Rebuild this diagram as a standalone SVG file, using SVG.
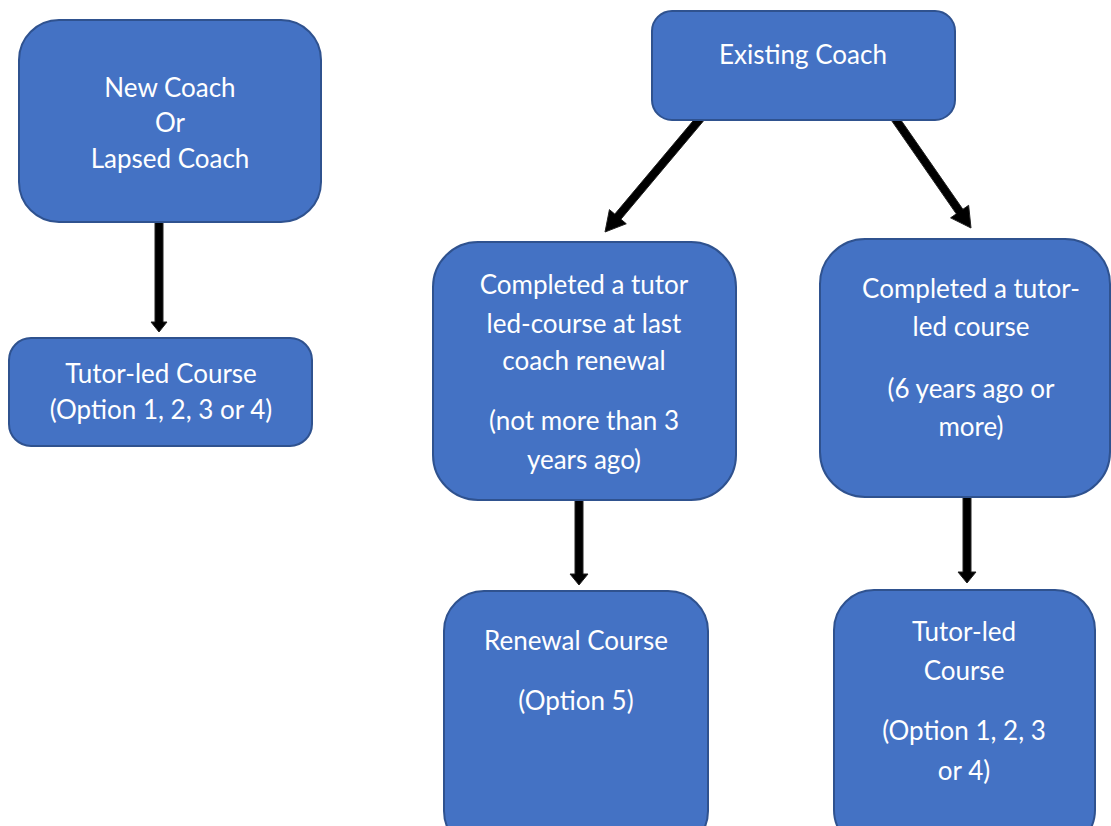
<svg xmlns="http://www.w3.org/2000/svg" width="1111" height="826" viewBox="0 0 1111 826">
<style>
.box{fill:#4472C4;stroke:#2F528F;stroke-width:2}
.t{fill:#ffffff;font-family:Lato,"Open Sans","Liberation Sans",sans-serif;font-size:26px;text-anchor:middle}
.a{fill:#000;stroke:#222;stroke-width:1;stroke-linejoin:miter}
</style>
<rect width="1111" height="826" fill="#ffffff"/>
<g id="connectors">
<polygon class="a" points="155,222 163,222 163,322 167,322 159,332 151,322 155,322"/>
<polygon class="a" points="575,500 583,500 583,574 588,574 579,585 570,574 575,574"/>
<polygon class="a" points="963,497 971,497 971,572 976,572 967,583 958,572 963,572"/>
<polygon class="a" points="705.96,117.97 620.92,219.25 626.29,223.75 605,232 609.43,209.61 614.80,214.11 699.84,112.83"/>
<polygon class="a" points="895.86,112.79 962.88,209.30 968.63,205.31 971,228 950.57,217.85 956.32,213.86 889.30,117.35"/>
</g>
<g id="n-new">
<rect class="box" x="19" y="20" width="302" height="202" rx="40"/>
<text class="t" x="170" y="97">New Coach</text>
<text class="t" x="170" y="132">Or</text>
<text class="t" x="170" y="168">Lapsed Coach</text>
</g>
<g id="n-tutor-left">
<rect class="box" x="9" y="338" width="303" height="108" rx="22"/>
<text class="t" x="161" y="383">Tutor-led Course</text>
<text class="t" x="161" y="419">(Option 1, 2, 3 or 4)</text>
</g>
<g id="n-existing">
<rect class="box" x="652" y="11" width="303" height="109" rx="20"/>
<text class="t" x="803" y="64">Existing Coach</text>
</g>
<g id="n-completed-left">
<rect class="box" x="433" y="242" width="303" height="258" rx="45"/>
<text class="t" x="584" y="294">Completed a tutor</text>
<text class="t" x="584" y="333">led-course at last</text>
<text class="t" x="584" y="370">coach renewal</text>
<text class="t" x="584" y="430">(not more than 3</text>
<text class="t" x="584" y="469">years ago)</text>
</g>
<g id="n-completed-right">
<rect class="box" x="820" y="239" width="290" height="258" rx="45"/>
<text class="t" x="971" y="298">Completed a tutor-</text>
<text class="t" x="971" y="336">led course</text>
<text class="t" x="971" y="398">(6 years ago or</text>
<text class="t" x="971" y="436">more)</text>
</g>
<g id="n-renewal">
<rect class="box" x="444" y="591" width="264" height="260" rx="40"/>
<text class="t" x="576" y="650">Renewal Course</text>
<text class="t" x="576" y="710">(Option 5)</text>
</g>
<g id="n-tutor-right">
<rect class="box" x="834" y="590" width="261" height="260" rx="40"/>
<text class="t" x="964" y="641">Tutor-led</text>
<text class="t" x="964" y="680">Course</text>
<text class="t" x="964" y="740">(Option 1, 2, 3</text>
<text class="t" x="964" y="780">or 4)</text>
</g>
</svg>
